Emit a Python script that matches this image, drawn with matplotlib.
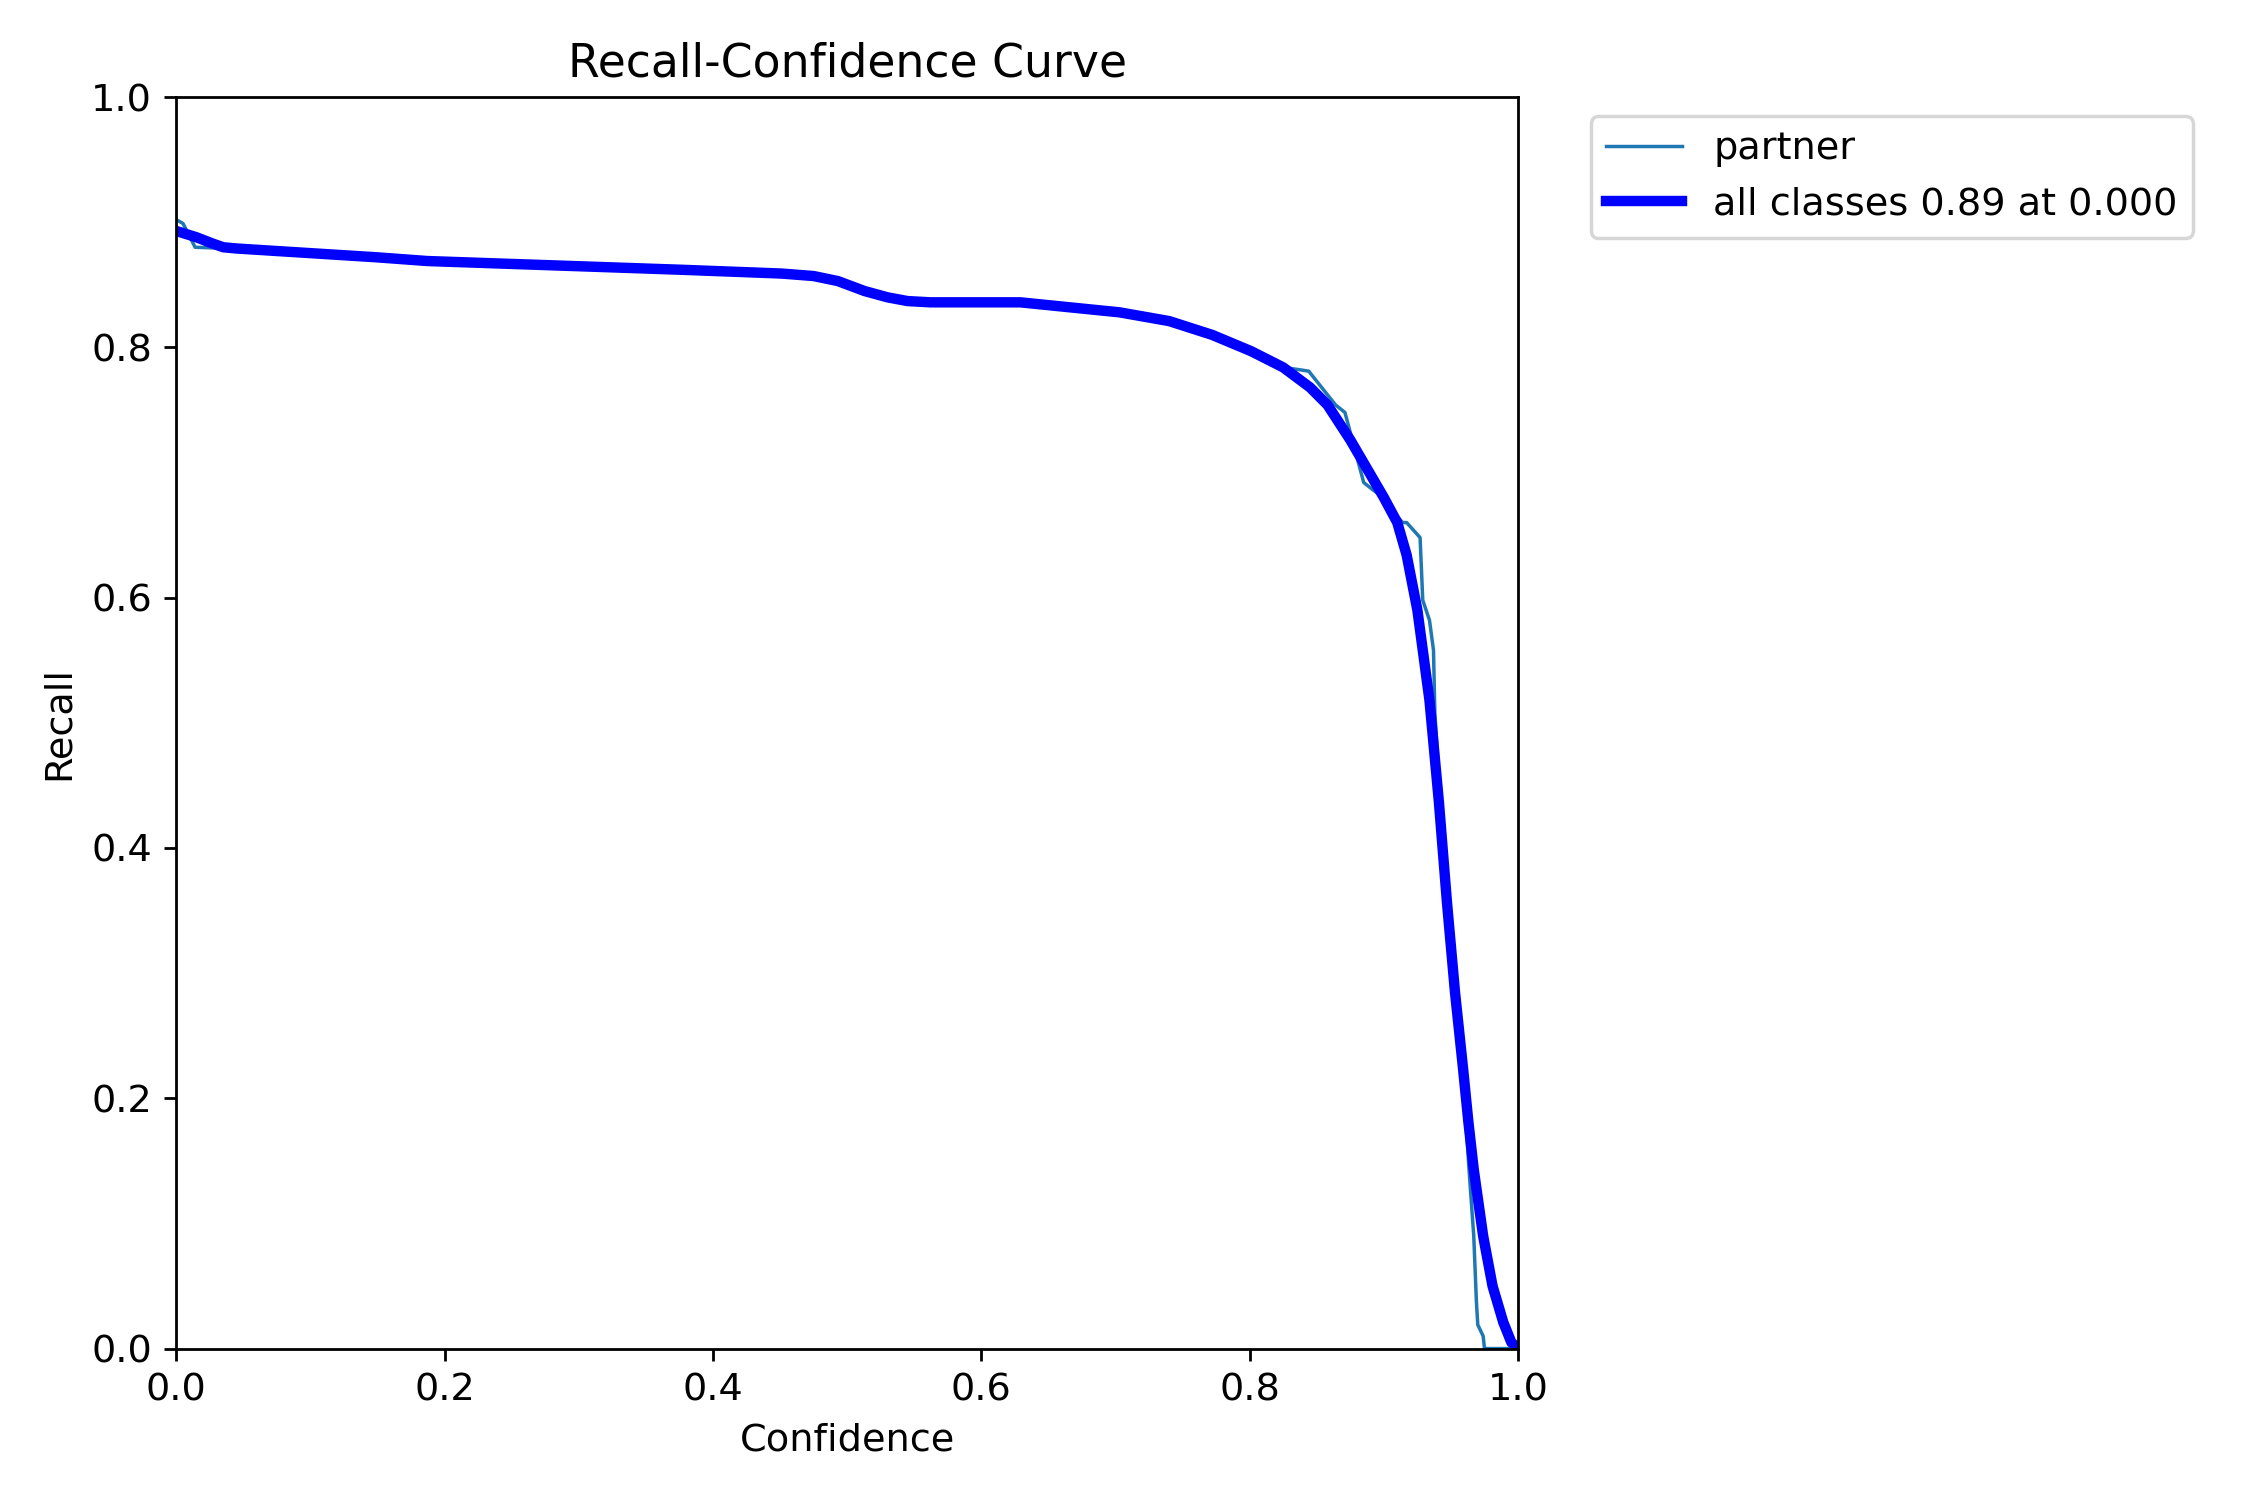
import numpy as np
import matplotlib
matplotlib.use("Agg")
import matplotlib.pyplot as plt

plt.rc("font", size=11)

# per-class recall curve
partner_conf = [0.0, 0.005, 0.014, 0.04, 0.06, 0.15, 0.19, 0.38, 0.451, 0.475, 0.493,
                0.513, 0.530, 0.545, 0.562, 0.629, 0.70, 0.74, 0.77, 0.80, 0.825, 0.838,
                0.844, 0.864, 0.871, 0.874, 0.882, 0.885, 0.892, 0.90, 0.91, 0.914,
                0.917, 0.927, 0.929, 0.934, 0.937, 0.938, 0.945, 0.953, 0.960, 0.964,
                0.967, 0.969, 0.970, 0.974, 0.975, 1.0]
partner_recall = [0.902, 0.899, 0.880, 0.879, 0.878, 0.872, 0.869, 0.862, 0.859, 0.857,
                  0.853, 0.845, 0.838, 0.837, 0.836, 0.836, 0.828, 0.821, 0.810, 0.796,
                  0.784, 0.782, 0.781, 0.754, 0.748, 0.736, 0.704, 0.692, 0.686, 0.680,
                  0.665, 0.660, 0.660, 0.648, 0.598, 0.582, 0.558, 0.508, 0.39, 0.285,
                  0.20, 0.135, 0.090, 0.037, 0.019, 0.010, 0.0, 0.0]

# smoothed mean over all classes
all_conf = [0.0, 0.015, 0.027, 0.035, 0.045, 0.06, 0.149, 0.187, 0.377, 0.451, 0.475,
            0.493, 0.513, 0.530, 0.545, 0.562, 0.629, 0.703, 0.74, 0.772, 0.801, 0.825,
            0.845, 0.858, 0.875, 0.900, 0.910, 0.917, 0.925, 0.934, 0.941, 0.947,
            0.953, 0.959, 0.963, 0.967, 0.974, 0.981, 0.989, 0.995, 1.0]
all_recall = [0.893, 0.888, 0.883, 0.880, 0.879, 0.878, 0.872, 0.869, 0.862, 0.859,
              0.857, 0.853, 0.845, 0.840, 0.837, 0.836, 0.836, 0.828, 0.821, 0.810,
              0.797, 0.784, 0.768, 0.754, 0.726, 0.680, 0.660, 0.634, 0.590, 0.518,
              0.437, 0.357, 0.285, 0.224, 0.181, 0.143, 0.090, 0.050, 0.021, 0.005, 0.0]

fig, ax = plt.subplots(1, 1, figsize=(9, 6), tight_layout=True)
ax.plot(partner_conf, partner_recall, linewidth=1, label="partner")
ax.plot(all_conf, all_recall, linewidth=3, color="blue", label="all classes 0.89 at 0.000")
ax.set_xlabel("Confidence")
ax.set_ylabel("Recall")
ax.set_xlim(0, 1)
ax.set_ylim(0, 1)
ax.legend(bbox_to_anchor=(1.04, 1), loc="upper left")
ax.set_title("Recall-Confidence Curve")
fig.savefig("out.png", dpi=250)
